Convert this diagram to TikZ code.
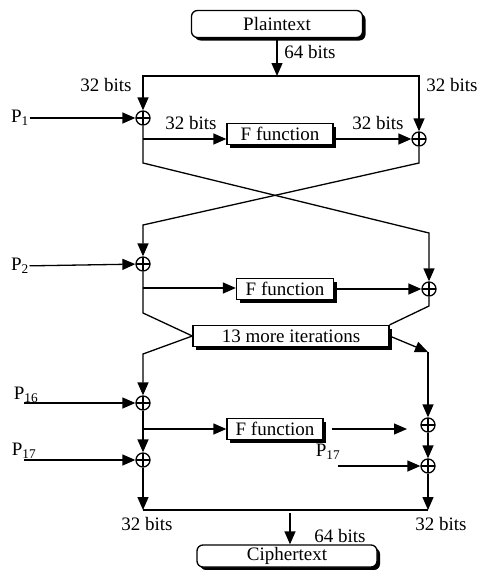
\documentclass[tikz,border=0pt]{standalone}
\usepackage{fontspec}
\setmainfont{Liberation Serif}
\usetikzlibrary{arrows.meta,shadows}
\tikzset{
  xorop/.style={circle,draw,fill=white,minimum size=14pt,inner sep=0pt,
    path picture={\draw (path picture bounding box.north) -- (path picture bounding box.south)
                        (path picture bounding box.west) -- (path picture bounding box.east);}},
  funcbox/.style={draw,fill=white,minimum height=21pt,inner sep=2pt,
    drop shadow={shadow xshift=3pt,shadow yshift=-3pt,fill=black,opacity=1}},
  endbox/.style={funcbox,rounded corners=6pt},
  lbl/.style={inner sep=0pt},
  flow/.style={-{Triangle[length=13pt,width=11pt]}}
}
\begin{document}
\begin{tikzpicture}[x=1pt,y=-1pt,line width=1.3pt,font=\fontsize{19}{21}\selectfont]
\useasboundingbox (0,0) rectangle (480,570);
% input and split
\node[endbox,minimum width=171pt,minimum height=27pt] (plain) at (277,24) {Plaintext};
\coordinate (top) at (277,76);
\coordinate (topl) at (143,76);
\coordinate (topr) at (419,76);
\node[lbl] (b64a) at (310,52) {64 bits};
\node[lbl] (b32a) at (106,85) {32 bits};
\node[lbl] (b32b) at (452,85) {32 bits};
% round 1
\node[xorop] (x1l) at (143,118) {};
\node[xorop] (x1r) at (419,139) {};
\node[lbl] (p1) at (20,118) {P\textsubscript{1}};
\node[funcbox,minimum width=106pt] (f1) at (280,134) {F function};
\node[lbl] (b32c) at (191,123) {32 bits};
\node[lbl] (b32d) at (378,123) {32 bits};
\coordinate (b1) at (143,139);
\draw[flow] (plain) -- (top);
\draw[flow] (top) -- (topl) -- (x1l);
\draw[flow] (top) -- (topr) -- (x1r);
\draw[flow] (p1) -- (x1l);
\draw[flow] (b1) -- (f1.west |- b1);
\draw[flow] (f1.east |- x1r) -- (x1r);
% swap
\coordinate (c1l) at (143,163);
\coordinate (c1r) at (419,163);
\coordinate (c2l) at (143,225);
\coordinate (c2r) at (429,233);
% round 2
\node[xorop] (x2l) at (143,264) {};
\node[xorop] (x2r) at (429,289) {};
\node[lbl] (p2) at (20,266) {P\textsubscript{2}};
\node[funcbox,minimum width=97pt] (f2) at (285,289) {F function};
\coordinate (b2) at (143,288);
\draw[flow] (x1l) -- (c1l) -- (c2r) -- (x2r);
\draw[flow] (x1r) -- (c1r) -- (c2l) -- (x2l);
\draw[flow] (p2) -- (x2l);
\draw[flow] (b2) -- (f2.west |- b2);
\draw[flow] (f2.east |- x2r) -- (x2r);
% remaining rounds
\node[funcbox,minimum width=196pt] (iter) at (291,336) {13 more iterations};
\coordinate (c3l) at (143,313);
\coordinate (c3r) at (429,306);
\coordinate (c4l) at (143,354);
\coordinate (m3r) at (428,352);
\draw (x2l) -- (c3l) -- (iter.west);
\draw (x2r) -- (c3r) -- (iter.north east);
% round 16
\node[xorop] (x16l) at (143,403) {};
\node[xorop] (x16r) at (428,425) {};
\node[lbl] (p16) at (26,395) {P\textsubscript{16}};
\coordinate (p16in) at (24,403);
\node[funcbox,minimum width=96pt] (f3) at (275,429) {F function};
\coordinate (b3) at (143,429);
\coordinate (f3out) at (407,429);
\draw[flow] (iter.west) -- (c4l) -- (x16l);
\draw[flow] (iter.east) -- (m3r);
\draw[flow] (m3r) -- (x16r);
\draw[flow] (p16in) -- (x16l);
\draw[flow] (b3) -- (f3.west |- b3);
\draw[flow] ([xshift=8pt]f3.east) -- (f3out);
% final whitening
\node[xorop] (x17l) at (143,460) {};
\node[xorop] (x17r) at (428,466) {};
\node[lbl] (p17) at (24,451) {P\textsubscript{17}};
\coordinate (p17in) at (24,460);
\node[lbl] (p17r) at (328,452) {P\textsubscript{17}};
\coordinate (p17rin) at (338,466);
\draw[flow] (x16l) -- (x17l);
\draw[flow] (x16r) -- (x17r);
\draw[flow] (p17in) -- (x17l);
\draw[flow] (p17rin) -- (x17r);
% output
\coordinate (jl) at (143,510);
\coordinate (jr) at (428,510);
\coordinate (jm) at (290,513);
\node[lbl] (b32e) at (147,524) {32 bits};
\node[lbl] (b32f) at (441,524) {32 bits};
\node[lbl] (b64b) at (340,536) {64 bits};
\node[endbox,minimum width=180pt,minimum height=22pt] (cipher) at (287,556) {Ciphertext};
\draw[flow] (x17l) -- (jl);
\draw[flow] (x17r) -- (jr);
\draw (jl) -- (jr);
\draw[flow] (jm) -- (jm |- cipher.north);
\end{tikzpicture}
\end{document}
